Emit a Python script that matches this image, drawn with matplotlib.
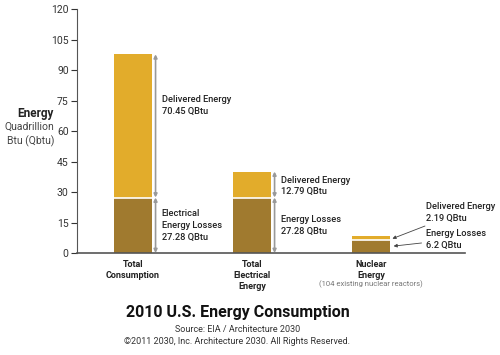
import numpy as np
import matplotlib
matplotlib.use("Agg")
import matplotlib.pyplot as plt

# data (quadrillion Btu)
categories = ["Total\nConsumption", "Total\nElectrical\nEnergy", "Nuclear\nEnergy"]
losses = [27.28, 27.28, 6.2]
delivered = [70.45, 12.79, 2.19]
loss_labels = ["Electrical\nEnergy Losses\n27.28 QBtu", "Energy Losses\n27.28 QBtu", "Energy Losses\n6.2 QBtu"]
deliv_labels = ["Delivered Energy\n70.45 QBtu", "Delivered Energy\n12.79 QBtu", "Delivered Energy\n2.19 QBtu"]
yticks = [0, 15, 30, 45, 60, 75, 90, 105, 120]

plt.rcParams['font.family'] = ['Roboto', 'DejaVu Sans']

gold = '#E2AC2B'
brown = '#A07A2F'

fig = plt.figure(figsize=(5, 3.55), dpi=100)
ax = fig.add_axes([0.154, 0.2873, 0.776, 0.6873])

x = np.arange(len(categories))
w = 0.32
ax.bar(x, losses, w, color=brown, edgecolor='none')
ax.bar(x, delivered, w, bottom=losses, color=gold, edgecolor='none')
# white line between the two parts
for i in range(len(x)):
    ax.plot([x[i] - w / 2, x[i] + w / 2], [losses[i], losses[i]], color='white', lw=1.2)

ax.set_xlim(-0.47, 2.79)
ax.set_ylim(0, 120)
ax.set_yticks(yticks)
ax.set_xticks([])
ax.tick_params(axis='y', labelsize=7.5, length=4, width=0.8, colors='#333333', pad=2)
for s in ['top', 'right']:
    ax.spines[s].set_visible(False)
ax.spines['left'].set_color('#555555')
ax.spines['bottom'].set_color('#555555')
ax.spines['bottom'].set_linewidth(1.2)

arr = dict(arrowstyle='<|-|>', color='#999999', lw=1.2, shrinkA=0, shrinkB=0, mutation_scale=5)
txt = dict(fontsize=6.7, va='center', ha='left', color='#222222', linespacing=1.4, fontweight='medium')

# double arrows and labels for first two bars
for i in range(2):
    ax_x = x[i] + 0.19
    top = losses[i] + delivered[i]
    ax.annotate('', xy=(ax_x, 0), xytext=(ax_x, losses[i]), arrowprops=arr)
    ax.annotate('', xy=(ax_x, losses[i]), xytext=(ax_x, top), arrowprops=arr)
    ax.text(x[i] + 0.24, losses[i] / 2, loss_labels[i], **txt)

ax.text(x[0] + 0.24, 72.5, deliv_labels[0], **txt)
ax.text(x[1] + 0.24, 33, deliv_labels[1], **txt)

# nuclear bar labels with pointers
ax.annotate(deliv_labels[2], xy=(x[2] + 0.18, losses[2] + delivered[2] * 0.4), xytext=(x[2] + 0.46, 20),
            arrowprops=dict(arrowstyle='-|>', color='#444444', lw=0.6, mutation_scale=5, shrinkA=1, shrinkB=0), **txt)
ax.annotate(loss_labels[2], xy=(x[2] + 0.19, 3.4), xytext=(x[2] + 0.46, 6.8),
            arrowprops=dict(arrowstyle='-|>', color='#444444', lw=0.6, mutation_scale=5, shrinkA=1, shrinkB=0), **txt)

# category labels
for i, c in enumerate(categories):
    ax.text(x[i], -3.5, c, fontsize=6.5, fontweight='bold', ha='center', va='top', color='#222222', linespacing=1.3)
ax.text(x[2], -13.6, "(104 existing nuclear reactors)", fontsize=5.5, ha='center', va='top', color='#777777')

# y label block
fig.text(0.108, 1 - 113 / 355, "Energy", fontsize=8.5, fontweight='bold', ha='right', va='center', color='#222222')
fig.text(0.108, 1 - 134 / 355, "Quadrillion\nBtu (Qbtu)", fontsize=7.5, ha='right', va='center', color='#444444',
         linespacing=1.4, multialignment='right')

# title and credits
fig.text(0.475, 1 - 312 / 355, "2010 U.S. Energy Consumption", fontsize=11.5, fontweight='bold', ha='center', va='center', color='#111111')
fig.text(0.475, 1 - 329 / 355, "Source: EIA / Architecture 2030", fontsize=6.5, ha='center', va='center', color='#333333')
fig.text(0.475, 1 - 342 / 355, "\u00a92011 2030, Inc. Architecture 2030. All Rights Reserved.", fontsize=6.5, ha='center', va='center', color='#333333')

fig.savefig('out.png', dpi=100, facecolor='white')
